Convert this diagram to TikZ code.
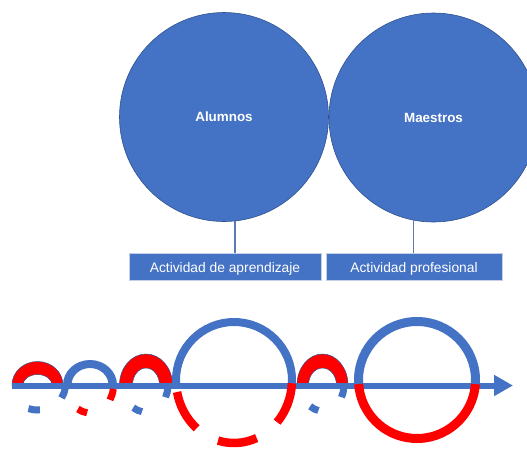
\documentclass[tikz,border=0pt]{standalone}
\usepackage{fontspec}
\setmainfont{Liberation Sans}
\usetikzlibrary{arrows.meta}
\definecolor{pblue}{HTML}{4472C4}
\definecolor{pred}{HTML}{FF0000}
\definecolor{pedge}{HTML}{2F528F}
\definecolor{plight}{HTML}{C5D0E8}
\definecolor{pconn}{HTML}{5B7AB3}
\begin{document}
\begin{tikzpicture}[x=1pt,y=-1pt,
  bigcirc/.style={circle, fill=pblue, draw=pedge, line width=0.6pt, minimum size=209pt, inner sep=0pt,
    text=white, text height=9.6pt, text depth=0pt, font=\fontsize{13.4}{16}\selectfont\bfseries},
  labelbox/.style={rectangle, fill=pblue, draw=plight, line width=0.8pt, minimum height=27pt, inner sep=0pt,
    text=white, text height=12.9pt, text depth=0pt, font=\fontsize{13.8}{16}\selectfont},
  conn/.style={draw=pconn, line width=1.3pt},
  blockarc/.style={draw=pedge, line width=0.5pt},
  dashseg/.style={line width=7pt},
  bigdash/.style={line width=8.5pt}]
\useasboundingbox (0,0) rectangle (527,448);
\clip (0,0) rectangle (527,448);

% upper diagram
\node[bigcirc] (alu) at (224,117) {Alumnos};
\node[bigcirc] (mae) at (433.5,117.5) {Maestros};
\node[labelbox, minimum width=192pt] (b1) at (225,266.5) {Actividad de aprendizaje};
\node[labelbox, minimum width=176pt] (b2) at (414,266.5) {Actividad profesional};
\draw[conn] (alu.-84.5) -- (alu.-84.5 |- b1.north);
\draw[conn] (mae.-101) -- (mae.-101 |- b2.north);

% top block arcs
\fill[pred, blockarc] (12,385) arc[start angle=180,end angle=360,x radius=25.5,y radius=23.5]
  -- (52,385) arc[start angle=0,end angle=-180,x radius=14.5,y radius=10.5] -- cycle;
\fill[pblue] (63,385) arc[start angle=180,end angle=360,x radius=27,y radius=25]
  -- (108.5,385) arc[start angle=0,end angle=-180,x radius=18.5,y radius=17] -- cycle;
\fill[pred, blockarc] (119.5,385) arc[start angle=180,end angle=360,x radius=26.5,y radius=31]
  -- (159.5,385) arc[start angle=0,end angle=-180,x radius=13.5,y radius=17] -- cycle;
\fill[pred, blockarc] (297,385) arc[start angle=180,end angle=360,x radius=25.5,y radius=31]
  -- (336.5,385) arc[start angle=0,end angle=-180,x radius=14,y radius=17] -- cycle;

% big circles, upper halves
\begin{scope}
  \clip (160,300) rectangle (310,385);
  \draw[pblue, line width=8pt] (234,380) circle[radius=58];
\end{scope}
\begin{scope}
  \clip (340,300) rectangle (490,384);
  \draw[pblue, line width=9pt] (417,380) circle[radius=58.5];
\end{scope}

% axis
\coordinate (axs) at (12,385.5);
\coordinate (axe) at (513,385.5);
\draw[pblue, line width=6pt, -{Triangle[length=19pt,width=20pt]}] (axs) -- (axe);

% lower halves
\draw[pred, line width=9pt] (417,380) ++(4:58.5) arc[start angle=4,end angle=176,radius=58.5];
\foreach \a/\b in {3/42, 67/106, 130/169}
  \draw[pred, bigdash] (234,380) ++(\a:58 and 63) arc[start angle=\a,end angle=\b,x radius=58,y radius=63];

\foreach \a/\b in {7/31, 85/109}
  \draw[pblue, dashseg] (37.5,385) ++(\a:28 and 25) arc[start angle=\a,end angle=\b,x radius=28,y radius=25];
\foreach \a/\b in {8/32, 97/121}
  \draw[pred, dashseg] (90,385) ++(\a:23.5 and 28) arc[start angle=\a,end angle=\b,x radius=23.5,y radius=28];
\foreach \a/\b in {4/27, 99/123}
  \draw[pblue, dashseg] (145.5,385) ++(\a:22.5 and 27) arc[start angle=\a,end angle=\b,x radius=22.5,y radius=27];
\foreach \a/\b in {4/28, 101/125}
  \draw[pblue, dashseg] (322.5,385) ++(\a:21.5 and 26) arc[start angle=\a,end angle=\b,x radius=21.5,y radius=26];
\end{tikzpicture}
\end{document}
